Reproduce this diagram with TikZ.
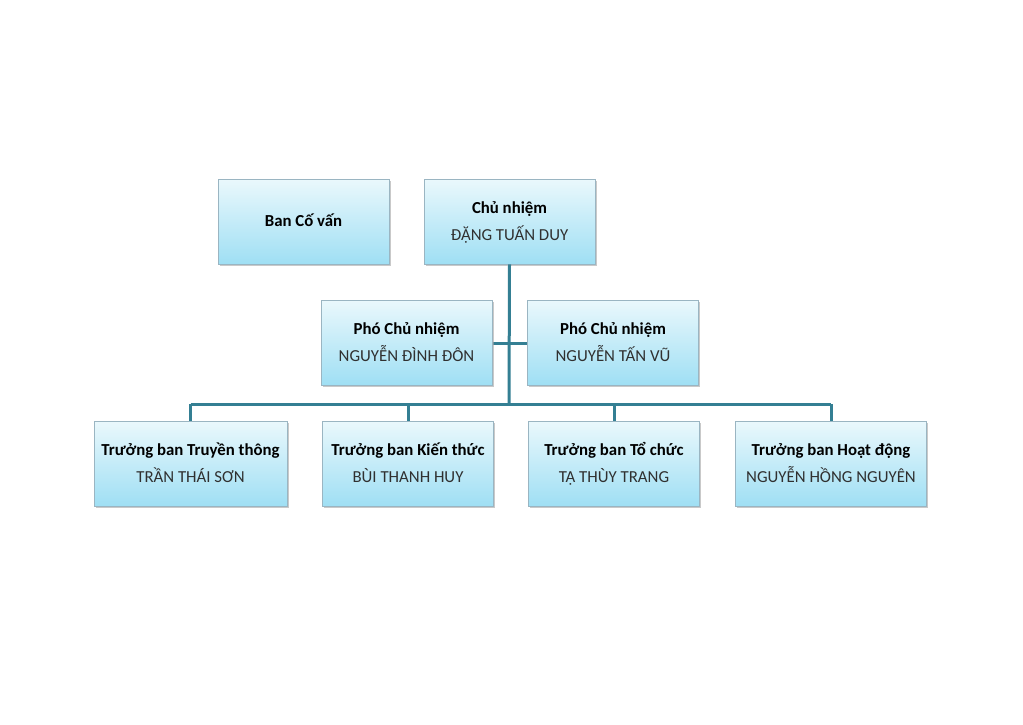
\documentclass[tikz,border=0pt]{standalone}
\usepackage{fontspec}
\setmainfont{Carlito}
\usepackage{tikz}
\usetikzlibrary{shadows}
\definecolor{lineteal}{HTML}{347F93}
\definecolor{boxtop}{HTML}{EAF8FC}
\definecolor{boxbot}{HTML}{9FDFF4}
\definecolor{boxedge}{HTML}{9AB5C2}
\definecolor{nametxt}{HTML}{303030}
\newcommand{\chuc}[1]{\strut\textbf{#1}}
\newcommand{\ten}[1]{\strut\textcolor{nametxt}{#1}}

\begin{document}
\begin{tikzpicture}[x=1pt,y=-1pt,
  post/.style n args={2}{draw=boxedge,line width=0.8pt,top color=boxtop,bottom color=boxbot,
    minimum width=#1,minimum height=#2,inner sep=0pt,align=center,
    font=\fontsize{16.8}{27}\selectfont,
    drop shadow={shadow xshift=1.5pt,shadow yshift=-2pt,fill=black!35,opacity=0.6}},
  link/.style={draw=lineteal,line width=3pt}]
\useasboundingbox (0,0) rectangle (1023,724);
\fill[white] (0,0) rectangle (1023,724);
% hang lines first
\coordinate (bus) at (509,404);
\node[post={171pt}{85pt}] (cv) at (303.5,221.5) {\chuc{Ban Cố vấn}};
\node[post={171pt}{85pt}] (cn) at (509.5,221.5) {\chuc{Chủ nhiệm}\\\ten{ĐẶNG TUẤN DUY}};
\draw[link] (cn.south) -- (bus);
\draw[link] (492,343) -- (528,343);
\node[post={171pt}{85pt}] (pcn1) at (406.5,342.5) {\chuc{Phó Chủ nhiệm}\\\ten{NGUYỄN ĐÌNH ĐÔN}};
\node[post={171pt}{85pt}] (pcn2) at (613,342.5) {\chuc{Phó Chủ nhiệm}\\\ten{NGUYỄN TẤN VŨ}};
\foreach \n/\x/\w/\ban/\hoten in %
{tt/190.5/193/Truyền thông/TRẦN THÁI SƠN,
 kt/408/171/Kiến thức/BÙI THANH HUY,
 tc/614/171/Tổ chức/TẠ THÙY TRANG,
 hd/831/191/Hoạt động/NGUYỄN HỒNG NGUYÊN} {
   \node[post={\w pt}{85pt}] (\n) at (\x,463.5) {\chuc{Trưởng ban \ban}\\\ten{\hoten}};
   \draw[link] (\n.north) -- (\x,404);
}
\draw[link] (tt.north |- bus) -- (hd.north |- bus);
\end{tikzpicture}
\end{document}
